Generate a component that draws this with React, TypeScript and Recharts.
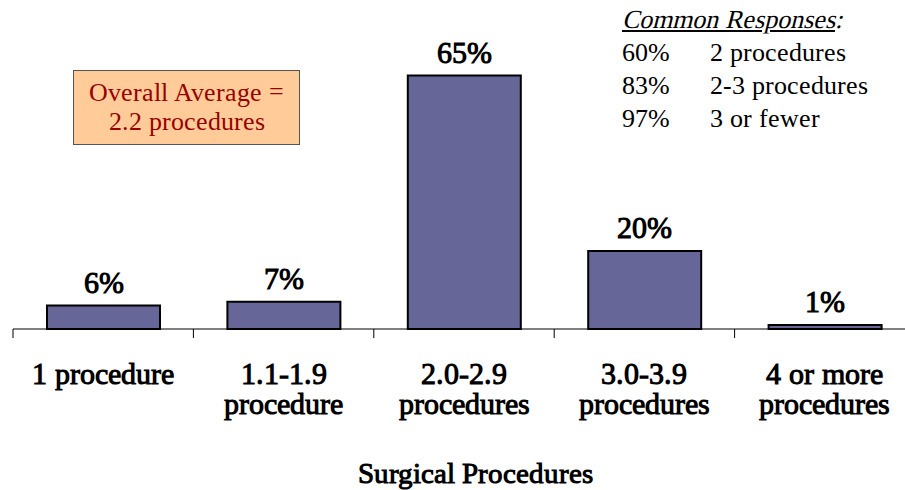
import { Bar, BarChart, LabelList, XAxis, YAxis, Label } from 'recharts';

const categories = ['1 procedure', '1.1-1.9 procedure', '2.0-2.9 procedures', '3.0-3.9 procedures', '4 or more procedures'];
const categoryLines = [['1 procedure'], ['1.1-1.9', 'procedure'], ['2.0-2.9', 'procedures'], ['3.0-3.9', 'procedures'], ['4 or more', 'procedures']];
const shares = [6, 7, 65, 20, 1];
const commonPcts = ['60%', '83%', '97%'];
const commonLabels = ['2 procedures', '2-3 procedures', '3 or fewer'];

const data = categories.map((name, i) => ({ name, share: shares[i] }));

// only the regular Liberation Serif face is installed; declaring it alone lets the browser synthesize bold/italic
const fontCss = `@font-face { font-family: 'LSR'; src: local('Liberation Serif'), local('LiberationSerif'), local('LiberationSerif-Regular'); font-weight: 400; font-style: normal; }`;
const FONT = 'LSR';
const BAND = 902 / categories.length;

function CategoryTick(props: any) {
  const { x, y, index } = props;
  const lines = categoryLines[index] ?? [];
  const left = x - BAND / 2;
  return (
    <g>
      <line x1={left} x2={left} y1={y} y2={y + 9} stroke="#000" />
      {index === categories.length - 1 && (
        <line x1={left + BAND} x2={left + BAND} y1={y} y2={y + 9} stroke="#000" />
      )}
      <text x={x} y={y + 55} textAnchor="middle" fontFamily={FONT} fontWeight="bold" fontSize={30} fill="#000">
        {lines.map((l, i) => (
          <tspan key={i} x={x} dy={i === 0 ? 0 : 30}>
            {l}
          </tspan>
        ))}
      </text>
    </g>
  );
}

export default function App() {
  return (
    <div style={{ position: 'absolute', left: 0, top: 0, width: 905, height: 490, overflow: 'hidden', background: '#fff' }}>
      <style>{fontCss}</style>
      <BarChart width={920} height={490} data={data} margin={{ top: 56, right: 5, left: 13, bottom: 0 }} barSize={113}>
        <YAxis hide domain={[0, 70]} />
        <XAxis
          dataKey="name"
          height={161}
          tick={<CategoryTick />}
          tickLine={false}
          tickSize={0}
          tickMargin={0}
          axisLine={{ stroke: '#000' }}
          interval={0}
        >
          <Label
            value="Surgical Procedures"
            position="insideBottom"
            offset={7}
            dx={11}
            fontFamily={FONT}
            fontWeight="bold"
            fontSize={29}
            fill="#000"
          />
        </XAxis>
        <Bar dataKey="share" fill="#666699" stroke="#000" strokeWidth={2} isAnimationActive={false}>
          <LabelList
            dataKey="share"
            position="top"
            offset={13}
            formatter={(v: any) => `${v}%`}
            fontFamily={FONT}
            fontWeight="bold"
            fontSize={30}
            fill="#000"
          />
        </Bar>
      </BarChart>
      <div
        style={{
          position: 'absolute',
          left: 73,
          top: 70,
          width: 227,
          height: 75,
          boxSizing: 'border-box',
          paddingTop: 7,
          background: '#FFCC99',
          border: '1px solid #555',
          color: '#990000',
          fontFamily: FONT,
          fontSize: 26,
          lineHeight: '29px',
          textAlign: 'center',
        }}
      >
        <div>Overall Average =</div>
        <div>2.2 procedures</div>
      </div>
      <div style={{ position: 'absolute', left: 622, top: 3, fontFamily: FONT, fontSize: 26, lineHeight: '33px', color: '#000' }}>
        <div style={{ fontStyle: 'italic' }}>
          <span style={{ textDecoration: 'underline' }}>Common Responses</span>:
        </div>
        {commonPcts.map((p, i) => (
          <div key={i} style={{ display: 'flex' }}>
            <span style={{ width: 88 }}>{p}</span>
            <span>{commonLabels[i]}</span>
          </div>
        ))}
      </div>
    </div>
  );
}
